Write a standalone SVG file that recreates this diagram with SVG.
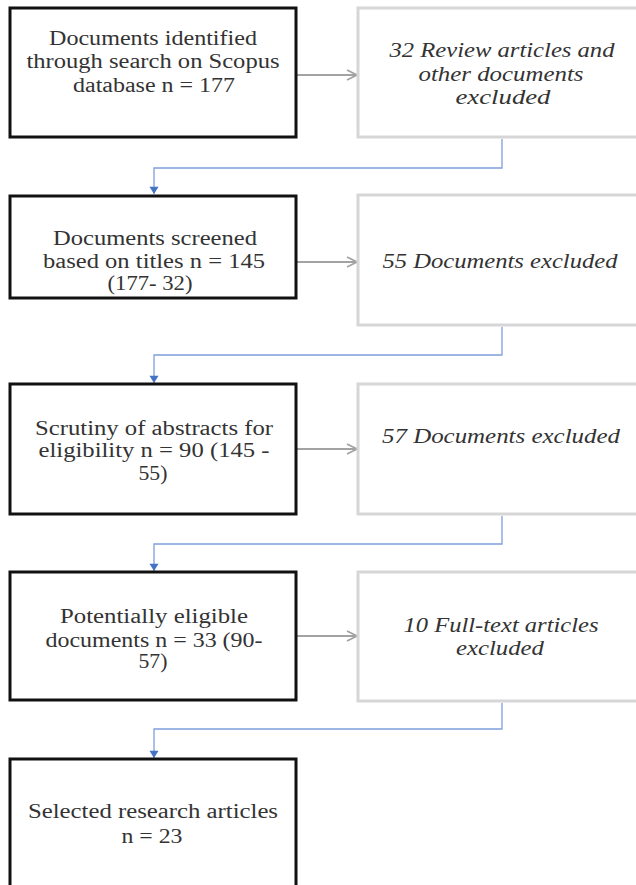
<svg xmlns="http://www.w3.org/2000/svg" width="636" height="885" viewBox="0 0 636 885">
<defs>
<style>
.main{fill:#ffffff;stroke:#111111;stroke-width:3}
.excl{fill:#ffffff;stroke:#d6d6d6;stroke-width:3}
text{font-family:'Liberation Serif','Times New Roman',serif;font-size:20px;fill:#333333;text-anchor:middle}
.i{font-style:italic}
.gray{fill:none;stroke:#a3a3a3;stroke-width:2}
.blue{fill:none;stroke:#7f9fdc;stroke-width:1.3}
</style>
<marker id="open" viewBox="0 0 12 12" refX="11" refY="6" markerWidth="12" markerHeight="12" markerUnits="userSpaceOnUse" orient="auto">
<path d="M1,1 L11,6 L1,11" fill="none" stroke="#a3a3a3" stroke-width="1.8"/>
</marker>
<marker id="tri" viewBox="0 0 10 10" refX="5" refY="9" markerWidth="10" markerHeight="9" markerUnits="userSpaceOnUse" orient="0">
<path d="M0,1 L10,1 L5,9 Z" fill="#4472c4"/>
</marker>
</defs>
<rect width="636" height="885" fill="#ffffff"/>

<g id="connectors">
<line class="gray" x1="297" y1="75" x2="357" y2="75" marker-end="url(#open)"/>
<line class="gray" x1="297" y1="262" x2="357" y2="262" marker-end="url(#open)"/>
<line class="gray" x1="297" y1="449" x2="357" y2="449" marker-end="url(#open)"/>
<line class="gray" x1="297" y1="636" x2="357" y2="636" marker-end="url(#open)"/>
<path class="blue" d="M502,139 V168 H154 V194" marker-end="url(#tri)"/>
<path class="blue" d="M502,327 V355 H154 V383" marker-end="url(#tri)"/>
<path class="blue" d="M502,516 V544 H154 V571" marker-end="url(#tri)"/>
<path class="blue" d="M502,703 V729 H154 V758" marker-end="url(#tri)"/>
</g>

<g id="n1">
<rect class="main" x="10" y="8" width="286" height="129"/>
<text x="153" y="45" textLength="208" lengthAdjust="spacingAndGlyphs">Documents identified</text>
<text x="153" y="68" textLength="253" lengthAdjust="spacingAndGlyphs">through search on Scopus</text>
<text x="154" y="92" textLength="162" lengthAdjust="spacingAndGlyphs">database n = 177</text>
</g>
<g id="r1">
<rect class="excl" x="358" y="8" width="290" height="129"/>
<text class="i" x="502" y="57" textLength="225" lengthAdjust="spacingAndGlyphs">32 Review articles and</text>
<text class="i" x="501" y="81" textLength="165" lengthAdjust="spacingAndGlyphs">other documents</text>
<text class="i" x="503" y="104" textLength="95" lengthAdjust="spacingAndGlyphs">excluded</text>
</g>

<g id="n2">
<rect class="main" x="10" y="196" width="286" height="102"/>
<text x="155" y="245" textLength="204" lengthAdjust="spacingAndGlyphs">Documents screened</text>
<text x="154" y="268" textLength="222" lengthAdjust="spacingAndGlyphs">based on titles n = 145</text>
<text x="150" y="290" textLength="85" lengthAdjust="spacingAndGlyphs">(177- 32)</text>
</g>
<g id="r2">
<rect class="excl" x="358" y="195" width="290" height="130"/>
<text class="i" x="500" y="268" textLength="235" lengthAdjust="spacingAndGlyphs">55 Documents excluded</text>
</g>

<g id="n3">
<rect class="main" x="10" y="384" width="286" height="130"/>
<text x="154" y="435" textLength="238" lengthAdjust="spacingAndGlyphs">Scrutiny of abstracts for</text>
<text x="154" y="457" textLength="231" lengthAdjust="spacingAndGlyphs">eligibility n = 90 (145 -</text>
<text x="153" y="480" textLength="29" lengthAdjust="spacingAndGlyphs">55)</text>
</g>
<g id="r3">
<rect class="excl" x="358" y="384" width="290" height="130"/>
<text class="i" x="501" y="443" textLength="238" lengthAdjust="spacingAndGlyphs">57 Documents excluded</text>
</g>

<g id="n4">
<rect class="main" x="10" y="572" width="286" height="128"/>
<text x="154" y="623" textLength="188" lengthAdjust="spacingAndGlyphs">Potentially eligible</text>
<text x="154" y="647" textLength="217" lengthAdjust="spacingAndGlyphs">documents n = 33 (90-</text>
<text x="153" y="668" textLength="29" lengthAdjust="spacingAndGlyphs">57)</text>
</g>
<g id="r4">
<rect class="excl" x="358" y="572" width="290" height="129"/>
<text class="i" x="501" y="632" textLength="195" lengthAdjust="spacingAndGlyphs">10 Full-text articles</text>
<text class="i" x="500" y="655" textLength="88" lengthAdjust="spacingAndGlyphs">excluded</text>
</g>

<g id="n5">
<rect class="main" x="10" y="759" width="286" height="140"/>
<text x="153" y="818" textLength="250" lengthAdjust="spacingAndGlyphs">Selected research articles</text>
<text x="152" y="843" textLength="61" lengthAdjust="spacingAndGlyphs">n = 23</text>
</g>
</svg>
